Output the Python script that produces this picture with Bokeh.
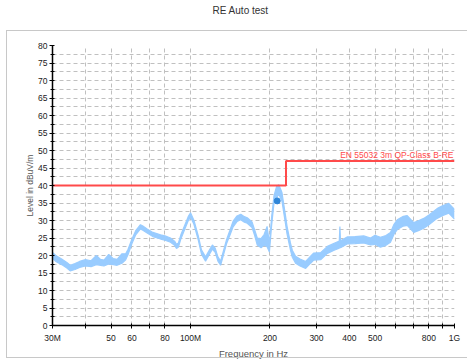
from bokeh.plotting import figure
from bokeh.models import (FixedTicker, Label, ColumnDataSource, InlineStyleSheet, Title,
                          LogAxis)
from bokeh.embed import file_html
from bokeh.resources import INLINE

# ---- data ----
freq_mhz = [30, 31, 32.5, 34, 35, 36.5, 38, 40, 42, 44, 45.6, 47, 49, 51, 52.7, 55, 56.8, 58,
            60, 62, 64.6, 66, 68.5, 72, 77, 80, 84, 87, 88.5, 90, 92, 95, 98, 100, 103, 107,
            110, 114, 118, 121, 124, 127, 130, 133, 137, 141, 145, 150, 155, 160, 164, 171,
            175, 179, 185, 190, 195, 199, 203, 207, 212, 216, 222, 229, 232, 239, 243, 250,
            260, 273, 285, 293, 311, 330, 350, 366, 368, 370, 392, 420, 453, 481, 500, 524,
            550, 572, 590, 607, 640, 662, 701, 730, 765, 800, 859, 900, 951, 1000]
level_lo = [19.2, 18.2, 17.4, 16.4, 15.6, 16.0, 16.6, 17.0, 16.8, 17.4, 17.2, 17.0, 17.6, 17.4, 17.2, 17.8, 18.8, 20.3,
            23.4, 25.9, 27.6, 27.2, 26.4, 25.4, 24.7, 24.4, 23.8, 22.9, 22.0, 22.4, 24.8, 27.4, 29.9, 31.0, 28.9, 24.4,
            20.4, 18.4, 20.4, 21.8, 20.9, 18.4, 17.2, 19.9, 23.4, 25.8, 28.2, 29.7, 30.2, 29.5, 29.2, 28.0,
            25.7, 23.0, 22.2, 23.0, 22.5, 21.0, 28.8, 34.8, 36.5, 37.5, 35.5, 29.0, 26.2, 21.6, 19.5, 17.8,
            17.0, 16.3, 17.8, 18.7, 18.8, 20.6, 21.5, 22.1, 22.3, 22.2, 23.3, 23.4, 23.6, 23.0, 23.2, 22.4,
            22.9, 23.8, 26.1, 27.4, 28.4, 28.6, 26.6, 27.1, 27.8, 28.8, 30.6, 31.4, 32.1, 30.4]
level_hi = [20.9, 19.9, 19.0, 18.0, 17.2, 17.7, 18.3, 18.8, 18.5, 20.0, 18.9, 18.7, 20.3, 19.1, 18.9, 20.5, 20.5, 21.8,
            24.7, 27.1, 28.8, 28.4, 27.6, 26.6, 25.9, 25.6, 25.0, 24.1, 23.2, 23.6, 26.0, 28.6, 31.1, 32.2, 30.1, 25.6,
            21.6, 19.6, 21.6, 23.0, 22.1, 19.6, 18.4, 21.1, 24.6, 27.2, 29.8, 31.3, 31.8, 31.1, 30.8, 29.6,
            27.3, 25.0, 24.8, 26.0, 28.3, 23.5, 31.2, 37.0, 39.8, 40.2, 38.0, 31.4, 28.4, 23.6, 21.5, 19.8,
            19.0, 18.3, 19.8, 20.7, 20.8, 22.6, 23.5, 24.1, 28.3, 24.2, 25.3, 25.4, 25.6, 25.0, 25.8, 25.2,
            25.7, 26.6, 28.9, 30.2, 31.2, 31.4, 29.4, 29.9, 30.6, 31.6, 33.4, 34.2, 34.9, 33.2]

limit_freq = [30, 230, 230, 1000]
limit_level = [40, 40, 47, 47]
limit_name = "EN 55032 3m QP-Class B-RE"

marker_freq = [213]
marker_level = [35.6]

x_ticks = [30, 40, 50, 60, 70, 80, 100, 200, 300, 400, 500, 600, 700, 800, 900, 1000]
x_tick_labels = {30: "30M", 40: "", 50: "50", 60: "60", 70: "", 80: "80", 100: "100M",
                 200: "200", 300: "300", 400: "400", 500: "500", 600: "", 700: "",
                 800: "800", 900: "", 1000: "1G"}
y_ticks = list(range(0, 81, 5))
y_minor = [v + 2.5 for v in range(0, 80, 5)]

title_text = "RE Auto test"

FONT = "Liberation Sans"

box_css = InlineStyleSheet(css="""
:host { position: relative; }
:host::after {
  content: "";
  position: absolute;
  left: 6px; top: 30px; width: 470px; height: 328px;
  border: 1.5px solid #c8c8c8;
  pointer-events: none;
  box-sizing: border-box;
}
""")

p = figure(width=467, height=361, x_axis_type="log", x_range=(30, 1000), y_range=(0, 80),
           output_backend="svg", toolbar_location=None,
           min_border_left=52, min_border_right=13, min_border_top=45, min_border_bottom=35)
p.stylesheets = [box_css]
p.outline_line_color = None
p.background_fill_color = "white"
p.border_fill_color = "white"

bottom_axis = p.below[0]
left_axis = p.left[0]

# invisible spacer axis above the frame (one hidden tick, label not drawn), pushing the title up
spacer = LogAxis(ticker=FixedTicker(ticks=[100], minor_ticks=[]), major_tick_out=30,
                 major_tick_in=0, major_tick_line_color=None, minor_tick_line_color=None,
                 axis_line_color=None, major_label_standoff=0,
                 major_label_text_font_size="1px", major_label_text_color=None,
                 major_label_overrides={100: ""})
p.add_layout(spacer, "above")

p.title = Title(text=title_text, align="left", offset=160, vertical_align="bottom", standoff=0,
                text_font=FONT, text_font_size="10px", text_font_style="normal",
                text_color="#333333")

# axes
bottom_axis.ticker = FixedTicker(ticks=x_ticks, minor_ticks=[])
bottom_axis.major_label_overrides = {k: v for k, v in x_tick_labels.items()}
left_axis.ticker = FixedTicker(ticks=y_ticks, minor_ticks=y_minor)

for ax in (bottom_axis, left_axis):
    ax.axis_line_color = "black"
    ax.axis_line_width = 1.5
    ax.major_tick_line_color = "black"
    ax.minor_tick_line_color = "black"
    ax.major_tick_in = 2
    ax.major_tick_out = 3
    ax.minor_tick_in = 2
    ax.minor_tick_out = 2
    ax.major_label_text_font = FONT
    ax.major_label_text_font_size = "8.5px"
    ax.major_label_text_color = "#222222"
    ax.axis_label_text_font = FONT
    ax.axis_label_text_font_style = "normal"
    ax.axis_label_text_color = "#555555"

bottom_axis.major_label_standoff = 4
left_axis.major_label_standoff = 2
bottom_axis.axis_label = "Frequency in Hz"
bottom_axis.axis_label_text_font_size = "9.5px"
bottom_axis.axis_label_standoff = 2
left_axis.axis_label = "Level in dBuV/m"
left_axis.axis_label_text_font_size = "8.5px"
left_axis.axis_label_standoff = 0

p.xgrid.grid_line_color = "#c0c0c0"
p.xgrid.grid_line_dash = "4 3"
p.ygrid.grid_line_color = "#c0c0c0"
p.ygrid.grid_line_dash = "4 3"
p.ygrid.minor_grid_line_color = "#c0c0c0"
p.ygrid.minor_grid_line_dash = "4 3"

# trace
src = ColumnDataSource(dict(f=freq_mhz, lo=level_lo, hi=level_hi))
p.varea(x="f", y1="lo", y2="hi", source=src, fill_color="#99ccff")
p.line(x="f", y="lo", source=src, line_color="#99ccff", line_width=1.2)
p.line(x="f", y="hi", source=src, line_color="#99ccff", line_width=1.2)

# limit line
p.line(limit_freq, limit_level, line_color="#ff4a4a", line_width=2)
p.add_layout(Label(x=limit_freq[-1], y=limit_level[-1], text=limit_name, text_align="right",
                   text_baseline="bottom", y_offset=1, x_offset=-1, text_font=FONT,
                   text_font_size="8.5px", text_color="#ff4a4a"))

# marker
p.scatter(marker_freq, marker_level, marker="circle", size=6, fill_color="#2f86d8",
          line_color="#2f86d8")

open("out.html", "w").write(file_html(p, INLINE))
